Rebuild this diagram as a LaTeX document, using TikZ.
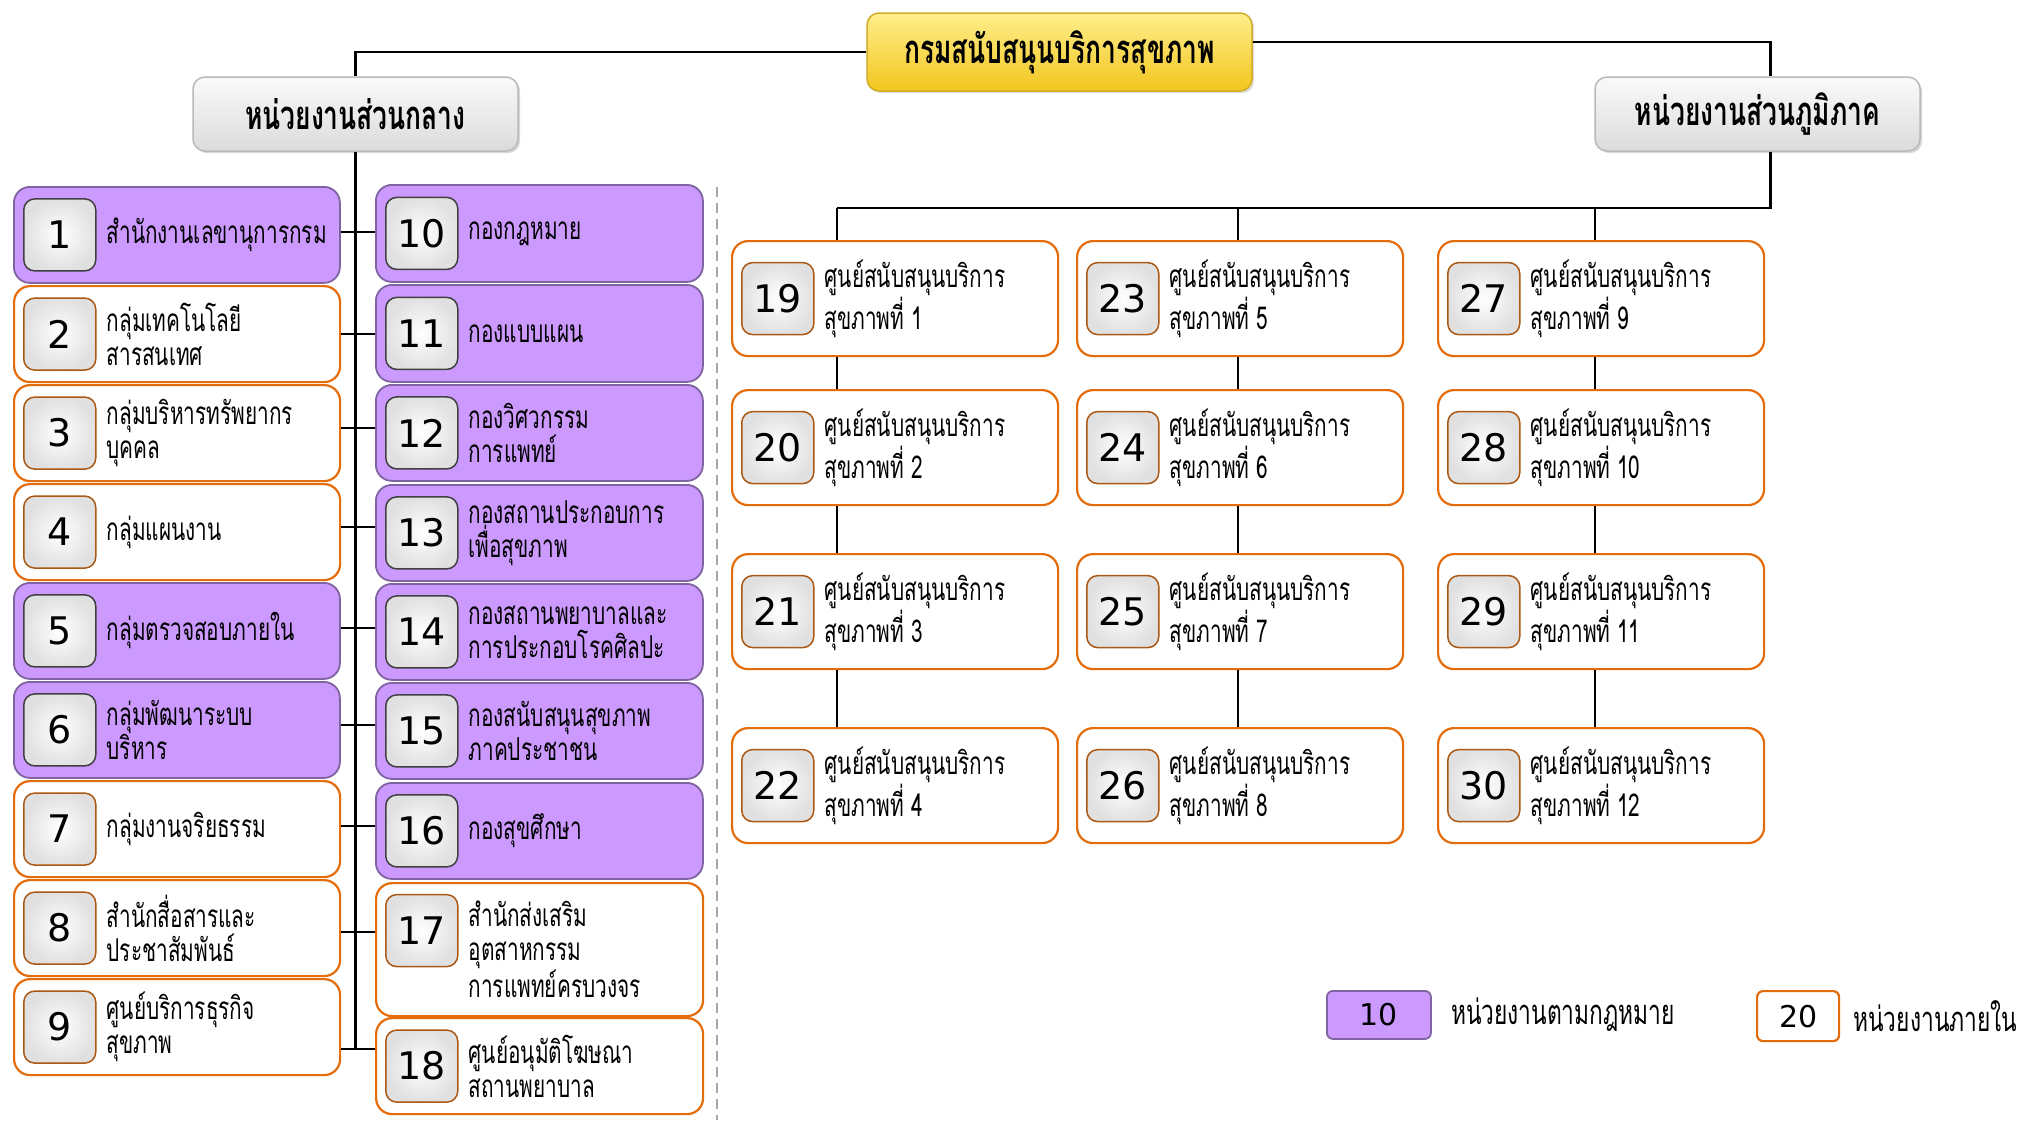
\documentclass[tikz,border=0pt]{standalone}
\usepackage{fontspec}
\newfontfamily\thai[Script=Thai,FakeStretch=0.66]{Loma}
\newfontfamily\dvs{DejaVu Sans}
\usetikzlibrary{shadows,calc}
\definecolor{lpurple}{RGB}{204,153,255}
\definecolor{dpurple}{RGB}{128,100,162}
\definecolor{orng}{RGB}{228,108,10}
\definecolor{ybright}{RGB}{255,238,140}
\definecolor{ydark}{RGB}{242,198,30}
\definecolor{ygold}{RGB}{210,172,40}
\definecolor{badgeline}{RGB}{170,88,20}
\tikzset{
  legal/.style={draw=dpurple, line width=1.8pt, fill=lpurple, rounded corners=16pt, inner sep=0pt},
  internal/.style={draw=orng, line width=2.2pt, fill=white, rounded corners=16pt, inner sep=0pt},
  badgebase/.style={minimum width=72pt, minimum height=72pt, rounded corners=11pt, inner sep=0pt,
     font=\dvs\fontsize{38}{40}\selectfont, inner color=white, outer color=gray!24, line width=1.5pt},
  badgelegal/.style={badgebase, draw=gray!50!black},
  badgeinternal/.style={badgebase, draw=badgeline},
  lbl/.style={font=\thai\fontsize{31.5}{34}\selectfont, align=left, inner sep=0pt},
  topbox/.style={draw=ygold, line width=1.5pt, top color=ybright, bottom color=ydark, rounded corners=12pt,
     font=\thai\bfseries\fontsize{40}{44}\selectfont, drop shadow={opacity=0.25}},
  hdrbox/.style={draw=gray!55, line width=1.5pt, top color=gray!4, bottom color=gray!28, rounded corners=12pt,
     font=\thai\bfseries\fontsize{40}{44}\selectfont, drop shadow={opacity=0.3}},
  conn/.style={line width=2.6pt, black},
  conn2/.style={line width=2.2pt, black},
  legtext/.style={font=\thai\fontsize{34.5}{38}\selectfont, inner sep=0pt, anchor=west},
}
\newcommand\unitbox[8]{%
  \node[#2, minimum width=#5pt, minimum height=#6pt, anchor=north west] (#1) at (#3,#4) {};
  \node[badge#2, anchor=west] (#1n) at ([xshift=10pt]#1.west) {#7};
  \node[lbl, anchor=west] (#1t) at ([xshift=10pt]#1n.east) {#8};
}
\begin{document}
\begin{tikzpicture}[x=1pt,y=-1pt]
\path[use as bounding box, fill=white] (0,0) rectangle (2019,1120);

% headers
\node[topbox, minimum width=385pt, minimum height=78pt] (top) at (1059.5,52) {กรมสนับสนุนบริการสุขภาพ};
\node[hdrbox, minimum width=325pt, minimum height=74pt] (cen) at (355.5,114) {หน่วยงานส่วนกลาง};
\node[hdrbox, minimum width=325pt, minimum height=74pt] (reg) at (1757.5,114) {หน่วยงานส่วนภูมิภาค};

% central units, left column
\unitbox{b1}{legal}{13}{186}{326}{96}{1}{สำนักงานเลขานุการกรม}
\unitbox{b2}{internal}{13}{285}{326}{96}{2}{กลุ่มเทคโนโลยี\\สารสนเทศ}
\unitbox{b3}{internal}{13}{384}{326}{96}{3}{กลุ่มบริหารทรัพยากร\\บุคคล}
\unitbox{b4}{internal}{13}{483}{326}{96}{4}{กลุ่มแผนงาน}
\unitbox{b5}{legal}{13}{582}{326}{96}{5}{กลุ่มตรวจสอบภายใน}
\unitbox{b6}{legal}{13}{681}{326}{96}{6}{กลุ่มพัฒนาระบบ\\บริหาร}
\unitbox{b7}{internal}{13}{780}{326}{96}{7}{กลุ่มงานจริยธรรม}
\unitbox{b8}{internal}{13}{879}{326}{96}{8}{สำนักสื่อสารและ\\ประชาสัมพันธ์}
\unitbox{b9}{internal}{13}{978}{326}{96}{9}{ศูนย์บริการธุรกิจ\\สุขภาพ}

% central units, right column
\unitbox{b10}{legal}{375}{184}{327}{97}{10}{กองกฎหมาย}
\unitbox{b11}{legal}{375}{284}{327}{97}{11}{กองแบบแผน}
\unitbox{b12}{legal}{375}{384}{327}{96}{12}{กองวิศวกรรม\\การแพทย์}
\unitbox{b13}{legal}{375}{484}{327}{96}{13}{กองสถานประกอบการ\\เพื่อสุขภาพ}
\unitbox{b14}{legal}{375}{583}{327}{96}{14}{กองสถานพยาบาลและ\\การประกอบโรคศิลปะ}
\unitbox{b15}{legal}{375}{682}{327}{96}{15}{กองสนับสนุนสุขภาพ\\ภาคประชาชน}
\unitbox{b16}{legal}{375}{782}{327}{96}{16}{กองสุขศึกษา}
\node[internal, minimum width=327pt, minimum height=133pt, anchor=north west] (b17) at (375,882) {};
\node[badgeinternal, anchor=west] (b17n) at ([xshift=10pt,yshift=19pt]b17.west) {17};
\node[lbl, anchor=west] (b17t) at ([xshift=10pt,yshift=-19pt]b17n.east) {สำนักส่งเสริม\\อุตสาหกรรม\\การแพทย์ครบวงจร};
\unitbox{b18}{internal}{375}{1017}{327}{96}{18}{ศูนย์อนุมัติโฆษณา\\สถานพยาบาล}

% regional units
\unitbox{b19}{internal}{731}{240}{326}{115}{19}{ศูนย์สนับสนุนบริการ\\สุขภาพที่ 1}
\unitbox{b20}{internal}{731}{389}{326}{115}{20}{ศูนย์สนับสนุนบริการ\\สุขภาพที่ 2}
\unitbox{b21}{internal}{731}{553}{326}{115}{21}{ศูนย์สนับสนุนบริการ\\สุขภาพที่ 3}
\unitbox{b22}{internal}{731}{727}{326}{115}{22}{ศูนย์สนับสนุนบริการ\\สุขภาพที่ 4}
\unitbox{b23}{internal}{1076}{240}{326}{115}{23}{ศูนย์สนับสนุนบริการ\\สุขภาพที่ 5}
\unitbox{b24}{internal}{1076}{389}{326}{115}{24}{ศูนย์สนับสนุนบริการ\\สุขภาพที่ 6}
\unitbox{b25}{internal}{1076}{553}{326}{115}{25}{ศูนย์สนับสนุนบริการ\\สุขภาพที่ 7}
\unitbox{b26}{internal}{1076}{727}{326}{115}{26}{ศูนย์สนับสนุนบริการ\\สุขภาพที่ 8}
\unitbox{b27}{internal}{1437}{240}{326}{115}{27}{ศูนย์สนับสนุนบริการ\\สุขภาพที่ 9}
\unitbox{b28}{internal}{1437}{389}{326}{115}{28}{ศูนย์สนับสนุนบริการ\\สุขภาพที่ 10}
\unitbox{b29}{internal}{1437}{553}{326}{115}{29}{ศูนย์สนับสนุนบริการ\\สุขภาพที่ 11}
\unitbox{b30}{internal}{1437}{727}{326}{115}{30}{ศูนย์สนับสนุนบริการ\\สุขภาพที่ 12}

% legend
\node[legal, rounded corners=6pt, minimum width=104pt, minimum height=48pt, anchor=north west,
      font=\dvs\fontsize{30}{32}\selectfont] (lg1) at (1326,990) {10};
\node[legtext] (lg1t) at ([xshift=19pt]lg1.east) {หน่วยงานตามกฎหมาย};
\node[internal, rounded corners=6pt, minimum width=82pt, minimum height=50pt, anchor=north west,
      font=\dvs\fontsize{30}{32}\selectfont] (lg2) at (1756,990) {20};
\node[legtext] (lg2t) at ([xshift=13pt]lg2.east) {หน่วยงานภายใน};

% coordinates
\coordinate (trunkend) at (355.5,1049);
\coordinate (c1) at (837,208);
\coordinate (c2) at (1238,208);
\coordinate (c3) at (1595,208);
\coordinate (dtop) at (717,187);
\coordinate (dbot) at (717,1120);

% connectors: top level
\draw[conn] (top.west) -| (cen.north);
\draw[conn] ([yshift=10pt]top.east) -| ([xshift=13pt]reg.north);

% central trunk and ticks
\draw[conn] (cen.south) -- (trunkend);
\draw[conn] ([yshift=3pt]b1.east) -- ([yshift=3pt]b1.east -| b10.west);
\draw[conn] (b2.east) -- (b2.east -| b11.west);
\draw[conn] ([yshift=5pt]b3.east) -- ([yshift=5pt]b3.east -| b12.west);
\draw[conn] ([yshift=5pt]b4.east) -- ([yshift=5pt]b4.east -| b13.west);
\draw[conn] ([yshift=3pt]b5.east) -- ([yshift=3pt]b5.east -| b14.west);
\draw[conn] ([yshift=5pt]b6.east) -- ([yshift=5pt]b6.east -| b15.west);
\draw[conn] ([yshift=3pt]b7.east) -- ([yshift=3pt]b7.east -| b16.west);
\draw[conn] ([yshift=-4pt]b8.east) -- ([yshift=-4pt]b8.east -| b17.west);
\draw[conn] (b9.east |- trunkend) -- (b18.west |- trunkend);

% regional tree
\draw[conn] ([xshift=13pt]reg.south) |- (c1);
\draw[conn2] (c1) -- (c1 |- b19.north);
\draw[conn2] (c2) -- (c2 |- b23.north);
\draw[conn2] (c3) -- (c3 |- b27.north);
\draw[conn2] (b19.south -| c1) -- (b20.north -| c1);
\draw[conn2] (b20.south -| c1) -- (b21.north -| c1);
\draw[conn2] (b21.south -| c1) -- (b22.north -| c1);
\draw[conn2] (b23.south -| c2) -- (b24.north -| c2);
\draw[conn2] (b24.south -| c2) -- (b25.north -| c2);
\draw[conn2] (b25.south -| c2) -- (b26.north -| c2);
\draw[conn2] (b27.south -| c3) -- (b28.north -| c3);
\draw[conn2] (b28.south -| c3) -- (b29.north -| c3);
\draw[conn2] (b29.south -| c3) -- (b30.north -| c3);

% dashed separator
\draw[gray!70, line width=1.8pt, dash pattern=on 10pt off 6pt] (dtop) -- (dbot);
\end{tikzpicture}
\end{document}
